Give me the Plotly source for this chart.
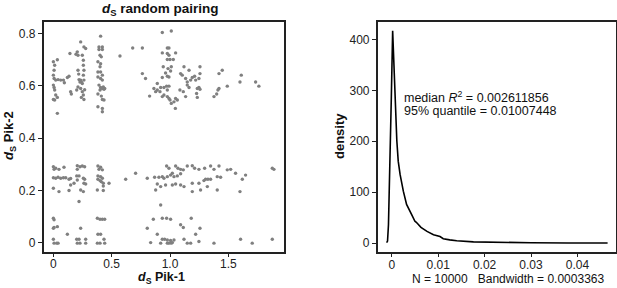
import plotly.graph_objects as go

# ---- scatter data: ds Pik-1 (x) vs ds Pik-2 (y) ----
upper_x = [0.0, 0.011, 0.034, 0.006, 0.0, 0.02, 0.006, 0.04, 0.063, 0.0, 0.006, 0.011, 0.02, 0.034, 0.0, 0.011, 0.034,
           0.086, 0.094, 0.12, 0.134, 0.154, 0.148, 0.142, 0.194,
           0.234, 0.262, 0.277, 0.205, 0.211, 0.248, 0.257, 0.257, 0.262, 0.257, 0.262, 0.248, 0.234, 0.248, 0.257, 0.262,
           0.211, 0.217, 0.22, 0.228, 0.211, 0.2, 0.234, 0.24, 0.268, 0.24,
           0.405, 0.391, 0.42, 0.391, 0.42, 0.40, 0.411, 0.382, 0.405, 0.40, 0.382, 0.405, 0.42, 0.382, 0.405, 0.42, 0.391,
           0.405, 0.42, 0.434, 0.40, 0.382, 0.411, 0.42, 0.434, 0.382, 0.42, 0.42, 0.428, 0.44,
           0.571, 0.68, 0.763, 0.763, 0.79,
           0.934, 1.011, 0.934, 0.977, 0.991, 0.977, 0.991, 1.048, 0.977, 1.0, 1.028, 0.942, 0.983, 1.011, 1.005, 0.962,
           1.091, 0.977, 0.991, 0.934, 0.891, 0.862, 0.891, 0.92, 0.948, 0.971, 0.977, 0.991, 0.825, 0.877, 0.914, 0.934,
           0.948, 0.977, 0.991, 1.0, 1.011, 1.034, 1.048, 1.063, 1.046, 1.085, 1.114, 1.134, 1.105, 1.134, 1.148, 1.148,
           1.163, 1.177, 1.191, 1.211, 1.22, 1.234, 1.228, 1.234, 1.257, 1.257, 1.248, 1.248, 1.257, 1.12, 1.163,
           1.377, 1.4, 1.42, 1.411, 1.42, 1.448, 1.491, 1.6, 1.611, 1.734, 1.762]
upper_y = [0.692, 0.679, 0.70, 0.66, 0.641, 0.622, 0.628, 0.624, 0.622, 0.603, 0.594, 0.584, 0.565, 0.556, 0.548, 0.546, 0.495,
           0.622, 0.612, 0.632, 0.637, 0.569, 0.578, 0.724, 0.721,
           0.768, 0.749, 0.743, 0.73, 0.717, 0.717, 0.698, 0.679, 0.66, 0.641, 0.622, 0.609, 0.59, 0.578, 0.565, 0.548,
           0.66, 0.645, 0.624, 0.615, 0.596, 0.584, 0.622, 0.615, 0.585, 0.556,
           0.79, 0.749, 0.749, 0.739, 0.739, 0.717, 0.711, 0.692, 0.685, 0.673, 0.653, 0.653, 0.641, 0.634, 0.628, 0.622, 0.603,
           0.594, 0.59, 0.587, 0.584, 0.569, 0.561, 0.548, 0.546, 0.52, 0.514, 0.501, 0.596, 0.59,
           0.714, 0.745, 0.745, 0.647, 0.628,
           0.804, 0.81, 0.726, 0.745, 0.745, 0.724, 0.717, 0.726, 0.701, 0.701, 0.701, 0.673, 0.666, 0.673, 0.657, 0.649,
           0.647, 0.637, 0.634, 0.632, 0.609, 0.59, 0.584, 0.594, 0.594, 0.599, 0.584, 0.599, 0.561, 0.578, 0.578, 0.559,
           0.565, 0.559, 0.552, 0.546, 0.533, 0.539, 0.552, 0.546, 0.514, 0.584, 0.578, 0.559, 0.641, 0.628, 0.615, 0.603,
           0.594, 0.622, 0.632, 0.637, 0.622, 0.59, 0.571, 0.556, 0.673, 0.647, 0.628, 0.594, 0.587, 0.673, 0.66,
           0.559, 0.569, 0.59, 0.584, 0.647, 0.66, 0.599, 0.615, 0.641, 0.615, 0.599]

lower_x = [0.0, 0.02, 0.006, 0.048, 0.091, 0.0, 0.02, 0.04, 0.063, 0.086, 0.106, 0.134, 0.148, 0.0, 0.048, 0.134, 0.148, 0.177,
           0.205, 0.228, 0.248, 0.268, 0.205, 0.2, 0.22, 0.257, 0.268, 0.205, 0.234, 0.257, 0.262, 0.277, 0.22,
           0.382, 0.405, 0.391, 0.42, 0.382, 0.405, 0.42, 0.382, 0.40, 0.411, 0.428, 0.428, 0.477, 0.377, 0.428,
           0.705, 0.62,
           0.805, 0.868, 0.905, 0.934, 0.948, 0.977, 1.005, 1.02, 1.034, 1.063, 1.091, 0.971, 0.991, 1.048, 1.068, 1.091,
           1.114, 1.148, 1.191, 1.211, 1.248, 1.297, 1.348, 1.377, 1.42, 1.491, 1.52, 1.562, 0.962, 1.02, 1.048, 1.091,
           1.12, 1.191, 1.248, 1.291, 1.305, 1.325, 1.348, 1.405, 1.434, 0.877, 0.891, 0.92, 1.191, 1.262, 1.32, 1.405,
           1.6, 1.62, 1.648, 1.877, 1.891,
           0.0, 0.006, 0.0, 0.006, 0.034, 0.12, 0.234, 0.377, 0.40, 0.42, 0.44, 0.382, 0.405, 0.805, 0.857, 0.92, 0.934,
           0.971, 1.005, 1.091, 1.114, 1.182, 1.22, 1.257, 0.891,
           0.0, 0.006, 0.029, 0.04, 0.2, 0.22, 0.205, 0.228, 0.277, 0.277, 0.377, 0.40, 0.434, 0.44, 0.834, 0.92, 0.934,
           0.954, 0.977, 0.991, 1.005, 1.02, 1.034, 0.977, 1.011, 1.12, 1.148, 1.177, 1.248, 1.377, 1.605, 1.705, 1.877]
lower_y = [0.291, 0.285, 0.281, 0.281, 0.289, 0.249, 0.247, 0.251, 0.247, 0.249, 0.249, 0.243, 0.246, 0.209, 0.196, 0.2, 0.221, 0.228,
           0.295, 0.291, 0.294, 0.291, 0.281, 0.256, 0.256, 0.247, 0.243, 0.24, 0.202, 0.196, 0.228, 0.225, 0.158,
           0.294, 0.289, 0.281, 0.279, 0.256, 0.253, 0.247, 0.243, 0.238, 0.234, 0.228, 0.217, 0.228, 0.202, 0.2,
           0.266, 0.243,
           0.247, 0.251, 0.251, 0.253, 0.247, 0.253, 0.259, 0.266, 0.253, 0.256, 0.264, 0.294, 0.285, 0.294, 0.285, 0.281,
           0.279, 0.294, 0.295, 0.285, 0.281, 0.285, 0.294, 0.281, 0.294, 0.279, 0.281, 0.266, 0.221, 0.221, 0.225, 0.221,
           0.215, 0.228, 0.228, 0.238, 0.243, 0.243, 0.243, 0.253, 0.251, 0.202, 0.225, 0.215, 0.196, 0.202, 0.215, 0.202,
           0.196, 0.243, 0.259, 0.285, 0.281,
           0.094, 0.088, 0.056, 0.059, 0.062, 0.033, 0.056, 0.094, 0.09, 0.09, 0.09, 0.033, 0.033, 0.056, 0.09, 0.145, 0.094,
           0.094, 0.09, 0.069, 0.059, 0.094, 0.033, 0.056, 0.033,
           0.014, -0.001, -0.001, -0.001, 0.014, 0.014, -0.001, -0.001, 0.014, -0.001, -0.001, -0.001, 0.014, -0.001, 0.001,
           -0.001, 0.014, 0.014, 0.011, -0.001, 0.009, 0.001, 0.011, -0.001, -0.001, 0.014, -0.001, -0.001, 0.005, -0.001,
           0.014, -0.001, 0.014]

# ---- density curve of R^2 ----
dens_x = [-0.0011, -0.0009, -0.0007, -0.0004, -0.0001, 0.0002, 0.0006, 0.0011, 0.0014, 0.0018, 0.0025, 0.0032, 0.0043,
          0.005, 0.0053, 0.0057, 0.0063, 0.0076, 0.009, 0.0104, 0.0111, 0.0125, 0.014, 0.0176, 0.0226, 0.03, 0.038, 0.0465]
dens_y = [1, 4, 36, 135, 280, 417, 300, 201, 161, 135, 102, 76, 56, 43, 41, 37, 31, 23, 16.5, 13, 8.7, 6.5, 4.7, 2.5,
          1.3, 0.7, 0.4, 0.2]

left_xticks = [0, 0.5, 1.0, 1.5]
left_xlabels = ["0", "0.5", "1.0", "1.5"]
left_yticks = [0, 0.2, 0.4, 0.6, 0.8]
left_ylabels = ["0", "0.2", "0.4", "0.6", "0.8"]
right_xticks = [0, 0.01, 0.02, 0.03, 0.04]
right_xlabels = ["0", "0.01", "0.02", "0.03", "0.04"]
right_yticks = [0, 100, 200, 300, 400]

FONT = "Liberation Sans, Arial, sans-serif"
W, H = 617, 288

fig = go.Figure()
fig.add_trace(go.Scatter(x=upper_x + lower_x, y=upper_y + lower_y, mode="markers",
                         marker=dict(color="#808080", size=3.4, line=dict(width=0)),
                         xaxis="x", yaxis="y", showlegend=False))
fig.add_trace(go.Scatter(x=dens_x, y=dens_y, mode="lines", line=dict(color="black", width=1.6),
                         xaxis="x2", yaxis="y2", showlegend=False))

def px(v):
    return v / W

def py(v):
    return 1 - v / H

axis_common = dict(showline=True, linecolor="#222", linewidth=1.5, mirror=True, ticks="outside",
                   ticklen=4, tickwidth=1, tickcolor="#222", showgrid=False, zeroline=False,
                   automargin=False, tickfont=dict(family=FONT, size=12, color="#222"))

ydom = [py(251.5), py(22.3)]
fig.update_layout(
    width=W, height=H, margin=dict(l=0, r=0, t=0, b=0, pad=0, autoexpand=False),
    paper_bgcolor="white", plot_bgcolor="white",
    xaxis=dict(domain=[px(43.7), px(284.3)], range=[-0.083, 1.98], tickvals=left_xticks,
               ticktext=left_xlabels, anchor="y", ticklabelstandoff=-4, **axis_common),
    yaxis=dict(domain=ydom, range=[-0.033, 0.843], tickvals=left_yticks, ticktext=left_ylabels,
               anchor="x", **axis_common),
    xaxis2=dict(domain=[px(377.7), px(615.5)], range=[-0.00302, 0.0482], tickvals=right_xticks,
                ticktext=right_xlabels, anchor="y2", ticklabelstandoff=-3, **axis_common),
    yaxis2=dict(domain=ydom, range=[-16.4, 433.6], tickvals=right_yticks, anchor="x2", **axis_common),
)

def ann(text, x, y, size=13, bold=True, angle=0, xanchor="center", yanchor="middle"):
    fig.add_annotation(text=("<b>%s</b>" % text) if bold else text, x=px(x), y=py(y), xref="paper", yref="paper",
                       showarrow=False, textangle=angle, xanchor=xanchor, yanchor=yanchor,
                       font=dict(family=FONT, size=size, color="#111"))

ann("<i>d</i><sub>S</sub> random pairing", 160, 9, size=13.5)
ann("<i>d</i><sub>S</sub> Pik-2", 9, 136, size=13, angle=-90)
ann("<i>d</i><sub>S</sub> Pik-1", 161, 287.5, size=12.5, yanchor="bottom")
ann("density", 339, 136, size=13, angle=-90)
ann("median <i>R</i><sup>2</sup> = 0.002611856", 402, 97, size=12.5, bold=False, xanchor="left")
ann("95% quantile = 0.01007448", 402, 111, size=12.5, bold=False, xanchor="left")
ann("N = 10000   Bandwidth = 0.0003363", 508, 279, size=12, bold=False)

fig.write_html("out.html", config={"displayModeBar": False},
               post_script="document.body.style.margin='0';document.body.style.padding='0';"
                           "document.body.style.overflow='hidden';")
